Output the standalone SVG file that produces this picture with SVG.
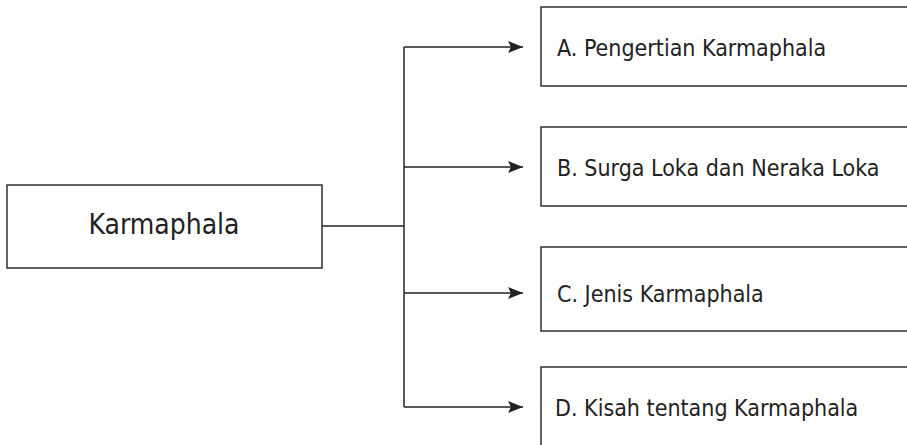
<svg xmlns="http://www.w3.org/2000/svg" width="907" height="445" viewBox="0 0 907 445">
<style>
.box{fill:#fff;stroke:#222;stroke-width:1.4}
.ln{fill:none;stroke:#222;stroke-width:1.5}
.t{font-family:"DejaVu Sans Condensed","DejaVu Sans","Liberation Sans",sans-serif;font-stretch:condensed;font-size:23px;fill:#222}
.tm{font-family:"DejaVu Sans Condensed","DejaVu Sans","Liberation Sans",sans-serif;font-stretch:condensed;font-size:28px;fill:#222}
</style>
<defs>
<marker id="ah" markerWidth="16" markerHeight="12" refX="15" refY="6" orient="auto" markerUnits="userSpaceOnUse">
<path d="M0,0 L15,6 L0,12 L3,6 Z" fill="#222"/>
</marker>
</defs>
<g id="connectors">
<path class="ln" d="M322,226 H404"/>
<path class="ln" d="M404,47 V407"/>
<path class="ln" d="M404,47 H523" marker-end="url(#ah)"/>
<path class="ln" d="M404,167 H523" marker-end="url(#ah)"/>
<path class="ln" d="M404,293 H523" marker-end="url(#ah)"/>
<path class="ln" d="M404,407 H523" marker-end="url(#ah)"/>
</g>
<g id="root">
<rect class="box" x="7" y="185" width="315" height="83"/>
<text class="tm" x="164" y="234" text-anchor="middle">Karmaphala</text>
</g>
<g id="nodeA">
<rect class="box" x="541" y="7" width="380" height="79"/>
<text class="t" x="557" y="56">A. Pengertian Karmaphala</text>
</g>
<g id="nodeB">
<rect class="box" x="541" y="127" width="380" height="79"/>
<text class="t" x="557" y="176">B. Surga Loka dan Neraka Loka</text>
</g>
<g id="nodeC">
<rect class="box" x="541" y="247" width="380" height="84"/>
<text class="t" x="557" y="302">C. Jenis Karmaphala</text>
</g>
<g id="nodeD">
<rect class="box" x="541" y="367" width="380" height="90"/>
<text class="t" x="555" y="416">D. Kisah tentang Karmaphala</text>
</g>
</svg>
